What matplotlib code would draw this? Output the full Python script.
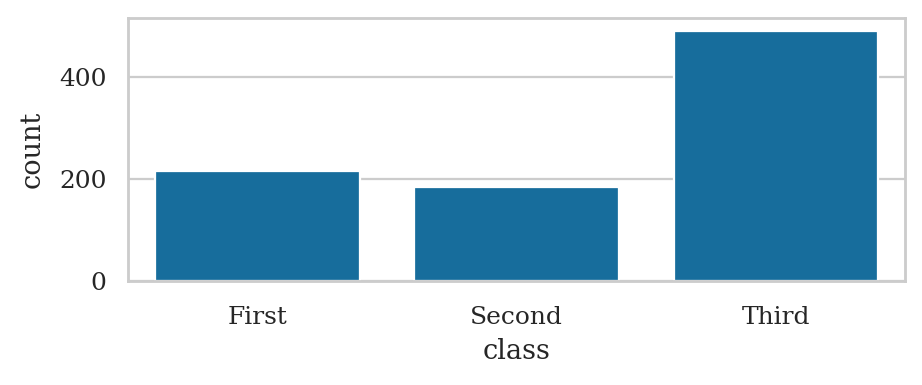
import matplotlib
matplotlib.use("Agg")
import matplotlib.pyplot as plt
import seaborn as sns

classes = ["First", "Second", "Third"]
counts = [216, 184, 491]

sns.set_theme(style="whitegrid", font="serif")
plt.rcParams['font.family'] = ['DejaVu Serif']

bar_color = sns.desaturate(sns.color_palette("colorblind")[0], 0.75)

dpi = 163
fig = plt.figure(figsize=(922 / dpi, 385 / dpi), dpi=dpi)
ax = fig.add_axes([0.139, 0.270, 0.843, 0.683])
ax.bar(classes, counts, width=0.79, color=bar_color)
ax.set_xlim(-0.5, 2.5)
ax.set_xlabel("class")
ax.set_ylabel("count", labelpad=6)
ax.set_yticks([0, 200, 400])
ax.xaxis.grid(False)
ax.tick_params(axis="x", pad=5)

fig.savefig("out.png", dpi=dpi)
